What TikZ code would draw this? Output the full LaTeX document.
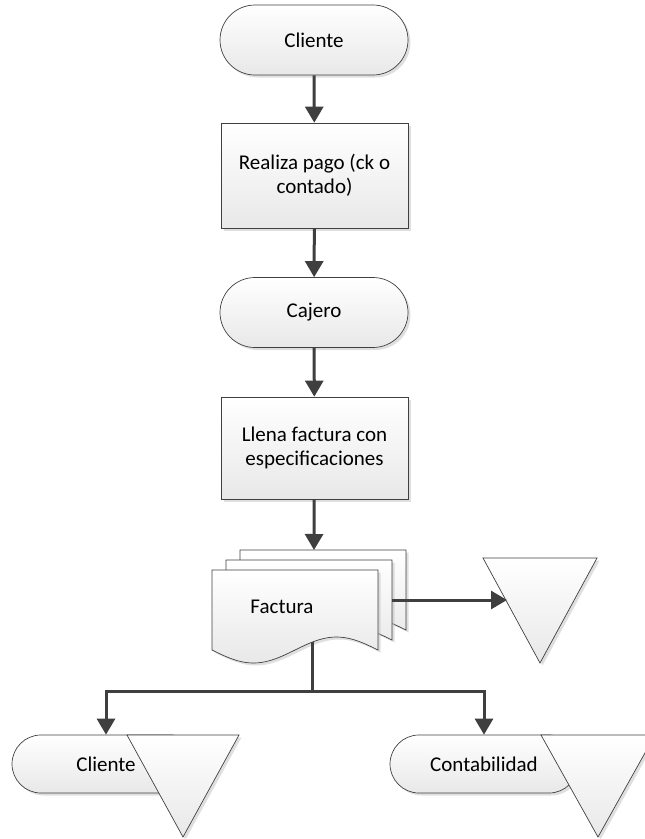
\documentclass[tikz,border=0pt]{standalone}
\usepackage{fontspec}
\setmainfont{Carlito}
\usetikzlibrary{arrows.meta,shadows}
\definecolor{edge}{HTML}{404040}
\definecolor{wire}{HTML}{3F3F3F}
\begin{document}
\begin{tikzpicture}[x=1pt,y=-1pt,
  font=\fontsize{21}{24}\selectfont,
  shapefill/.style={top color=white,bottom color=black!9,draw=edge,line width=0.7pt},
  softshadow/.style={drop shadow={shadow xshift=2.5pt,shadow yshift=-2.5pt,fill=black!25,opacity=0.5}},
  term/.style={shapefill,softshadow,rectangle,rounded corners=#1,
    minimum width=188pt,minimum height=2*#1,inner sep=0pt},
  procbox/.style={shapefill,softshadow,rectangle,minimum width=187pt,
    align=center,inner sep=0pt},
  flow/.style={draw=wire,line width=3pt,-{Triangle[length=16pt,width=18pt]}},
  plain/.style={draw=wire,line width=3pt}]
\useasboundingbox (0,0) rectangle (645,839);

% main column
\node[term=35pt] (cli) at (314,40) {Cliente};
\node[procbox,minimum height=105pt] (pago) at (314.5,175.5) {Realiza pago (ck o\\contado)};
\node[term=35pt] (caj) at (314,312.5) {Cajero};
\node[procbox,minimum height=102pt] (llena) at (314.5,448) {Llena factura con\\especificaciones};

% stack of documents: back, middle, front page
\newcommand\docpage[2]{%
  \path[shapefill,softshadow] (#1,#2) -- ({#1+166},#2) -- ({#1+166},{#2+80})
    -- plot[variable=\t,domain=1:0,samples=41] ({#1+166*\t},{#2+80+13*sin(360*\t)})
    -- cycle;}
\docpage{240}{550}
\docpage{226}{560}
\docpage{212}{570}
\coordinate (factT) at (314,550);
\coordinate (factR) at (392,600);
\coordinate (factB) at (312,642.2);
\node (fact) at (282,607) {Factura};

% storage triangle beside the invoice
\path[shapefill,softshadow] (483,558) -- (597,558) -- (540,663) -- cycle;
\coordinate (store) at (507,600);

% receivers
\node[term=29pt] (cli2) at (106,764) {Cliente};
\node[term=29pt] (cont) at (484,764) {Contabilidad};
\path[shapefill,softshadow] (127,735) -- (239,735) -- (183,837) -- cycle;
\path[shapefill,softshadow] (541,735) -- (655,735) -- (598,837) -- cycle;

% connectors
\draw[flow] (cli) -- (pago);
\draw[flow] (pago) -- (caj);
\draw[flow] (caj) -- (llena);
\draw[flow] (llena) -- (factT);
\draw[flow] (factR) -- (store);
\coordinate (split) at (312,691);
\draw[plain] (factB) -- (split);
\draw[flow] (split) -| (cli2.north);
\draw[flow] (split) -| (cont.north);
\end{tikzpicture}
\end{document}
